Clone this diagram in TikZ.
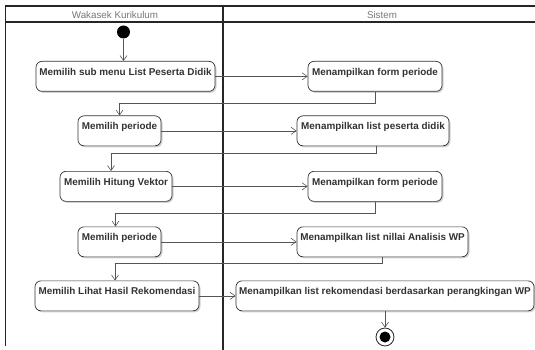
\documentclass[tikz,border=0pt]{standalone}
\usepackage{fontspec}
\setmainfont{Liberation Sans}
\usetikzlibrary{arrows.meta,shadows,calc}
\definecolor{linegray}{HTML}{555555}
\definecolor{textgray}{HTML}{333333}
\definecolor{headgray}{HTML}{777777}
\tikzset{
  act/.style={draw=textgray, line width=0.7pt, rounded corners=6pt, fill=white,
    anchor=north, minimum height=30pt, inner xsep=2pt, inner ysep=2pt,
    text height=12pt, text depth=14pt, font=\fontsize{9.9}{11}\selectfont\bfseries,
    text=textgray,
    drop shadow={shadow xshift=1.5pt, shadow yshift=-1.5pt, opacity=0.18, fill=black}},
  flow/.style={draw=linegray, line width=0.6pt, -{Straight Barb[length=5pt,width=7pt]}},
  lane/.style={draw=black!85, line width=1.2pt},
  lanehead/.style={font=\fontsize{9.8}{11}\selectfont, text=headgray, inner sep=0pt}
}
\begin{document}
\begin{tikzpicture}[x=1pt,y=-1pt]
\useasboundingbox (0,0) rectangle (535,350);

% swimlanes
\draw[lane] (540,6) -- (5.5,6) -- (5.5,346);
\draw[lane] (5.5,22) -- (540,22);
\draw[lane] (223,6) -- (223,352);
\node[lanehead] (h1) at (115,14.5) {Wakasek Kurikulum};
\node[lanehead] (h2) at (382,14.5) {Sistem};

% start and end
\node[circle, fill=black, inner sep=0pt, minimum size=13pt] (start) at (123.5,32) {};
\node[circle, draw=black!85, line width=0.8pt, fill=white, inner sep=0pt, minimum size=18pt] (endo) at (385,337) {};
\node[circle, fill=black, inner sep=0pt, minimum size=11pt] (endi) at (endo.center) {};

% actions of the curriculum vice principal
\node[act, minimum width=179pt] (a1) at (125.5,61) {Memilih sub menu List Peserta Didik};
\node[act, minimum width=83pt]  (a2) at (119.5,115.5) {Memilih periode};
\node[act, minimum width=112pt] (a3) at (116,171) {Memilih Hitung Vektor};
\node[act, minimum width=83pt]  (a4) at (119.5,226.5) {Memilih periode};
\node[act, minimum width=164pt] (a5) at (117,280.5) {Memilih Lihat Hasil Rekomendasi};

% system actions
\node[act, minimum width=134pt] (s1) at (375,61) {Menampilkan form periode};
\node[act, minimum width=152pt] (s2) at (373,115.5) {Menampilkan list peserta didik};
\node[act, minimum width=134pt] (s3) at (375,171) {Menampilkan form periode};
\node[act, minimum width=171pt] (s4) at (382.5,226.5) {Menampilkan list nillai Analisis WP};
\node[act, minimum width=298pt] (s5) at (385,280.5) {Menampilkan list rekomendasi berdasarkan perangkingan WP};

% control flow
\draw[flow] (start) -- (start |- a1.north);
\draw[flow] (a1) -- (s1);
\draw[flow] (s1.south) -- ++(0,12) -| (a2.north);
\draw[flow] (a2) -- (s2);
\draw[flow] ([xshift=3pt]s2.south) -- ++(0,7) -| ([xshift=-5pt]a3.north);
\draw[flow] (a3) -- (s3);
\draw[flow] (s3.south) -- ++(0,12) -| ([xshift=-4pt]a4.north);
\draw[flow] (a4) -- (s4);
\draw[flow] (s4.south) -- ++(0,6) -| ([xshift=-2pt]a5.north);
\draw[flow] (a5) -- (s5);
\draw[flow] (s5.south) -- (endo.north);
\end{tikzpicture}
\end{document}
